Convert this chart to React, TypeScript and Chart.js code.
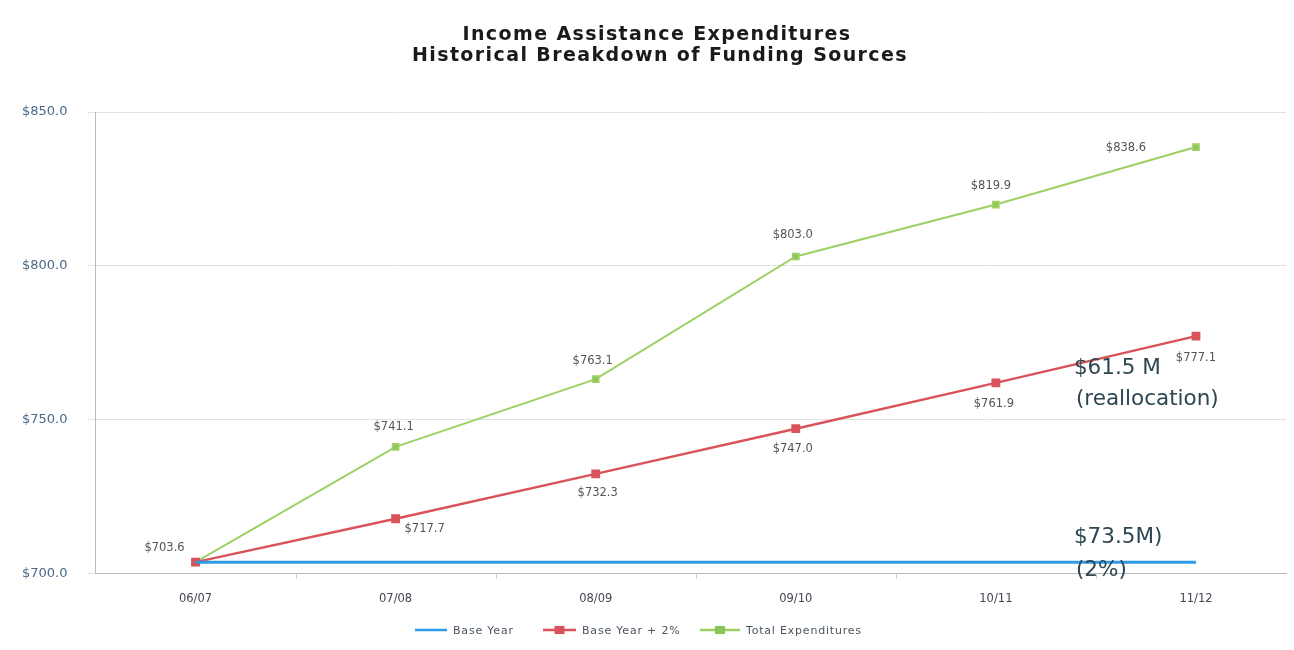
import React, { useEffect, useRef } from "react";
import { Chart, registerables } from "chart.js";

Chart.register(...registerables);

const categories = ["06/07", "07/08", "08/09", "09/10", "10/11", "11/12"];
const baseYear = [703.6, 703.6, 703.6, 703.6, 703.6, 703.6];
const basePlus2 = [703.6, 717.7, 732.3, 747.0, 761.9, 777.1];
const totalExp = [703.6, 741.1, 763.1, 803.0, 819.9, 838.6];
const yTickValues = [700, 750, 800, 850];
const titleLines = ["Income Assistance Expenditures", "Historical Breakdown of Funding Sources"];
const seriesNames = ["Base Year", "Base Year + 2%", "Total Expenditures"];
const seriesColors = ["#2f9ae6", "#d9535a", "#9dd065"];
const markerColors = ["#2f9ae6", "#d9535a", "#8cc653"];

// label offsets (style only)
const greenLabelOffsets = [[-31, -14], [-2, -20], [-3, -18], [-3, -21], [-5, -19], [-70, 1]];
const redLabelOffsets = [[0, 0], [29, 10], [2, 19], [-3, 20], [-2, 21], [0, 22]];

const fmt = (v: number) => "$" + v.toFixed(1);

const labelPlugin = {
  id: "pointLabels",
  afterDatasetsDraw(chart: any) {
    const ctx = chart.ctx;
    const xs = chart.scales.x;
    const ys = chart.scales.y;
    ctx.save();
    // small tick marks between categories
    ctx.strokeStyle = "#ccc";
    ctx.lineWidth = 1;
    for (let i = 1; i < categories.length; i++) {
      const px = Math.round(xs.getPixelForValue(i - 0.5)) + 0.5;
      ctx.beginPath();
      ctx.moveTo(px, ys.bottom);
      ctx.lineTo(px, ys.bottom + 6);
      ctx.stroke();
    }

    ctx.font = "11.5px 'DejaVu Sans', sans-serif";
    ctx.fillStyle = "#555";
    ctx.textAlign = "center";
    ctx.textBaseline = "middle";
    totalExp.forEach((v, i) => {
      const [dx, dy] = greenLabelOffsets[i];
      ctx.fillText(fmt(v), xs.getPixelForValue(i) + dx, ys.getPixelForValue(v) + dy);
    });
    basePlus2.forEach((v, i) => {
      if (i === 0) return;
      const [dx, dy] = redLabelOffsets[i];
      ctx.fillText(fmt(v), xs.getPixelForValue(i) + dx, ys.getPixelForValue(v) + dy);
    });
    // annotations
    ctx.font = "21.5px 'DejaVu Sans', sans-serif";
    ctx.fillStyle = "#2d4752";
    ctx.textAlign = "left";
    const ax = xs.getPixelForValue(4.39);
    ctx.fillText("$61.5 M", ax, ys.getPixelForValue(766.5));
    ctx.fillText("(reallocation)", ax + 2, ys.getPixelForValue(756.5));
    ctx.fillText("$73.5M)", ax, ys.getPixelForValue(711.5));
    ctx.fillText("(2%)", ax + 2, ys.getPixelForValue(700.8));

    // title
    ctx.font = "bold 19px 'DejaVu Sans', sans-serif";
    (ctx as any).letterSpacing = "1.4px";
    ctx.fillStyle = "#1a1a1a";
    ctx.textAlign = "center";
    ctx.fillText(titleLines[0], 657, 35);
    ctx.fillText(titleLines[1], 660, 56);
    (ctx as any).letterSpacing = "0px";

    // legend
    ctx.font = "11px 'DejaVu Sans', sans-serif";
    (ctx as any).letterSpacing = "0.8px";
    ctx.fillStyle = "#4a5560";
    ctx.textAlign = "left";
    const ly = 630;
    const items = [
      { x: 415, w: 32, marker: false },
      { x: 543, w: 33, marker: true },
      { x: 700, w: 40, marker: true },
    ];
    items.forEach((it, i) => {
      ctx.strokeStyle = seriesColors[i];
      ctx.lineWidth = 2.5;
      ctx.beginPath();
      ctx.moveTo(it.x, ly);
      ctx.lineTo(it.x + it.w, ly);
      ctx.stroke();
      if (it.marker) {
        ctx.fillStyle = markerColors[i];
        ctx.fillRect(it.x + it.w / 2 - 5, ly - 4, 10, 8);
      }
      ctx.fillStyle = "#4a5560";
      ctx.fillText(seriesNames[i], it.x + it.w + 6, ly + 1);
    });
    ctx.restore();
  },
};

export default function App() {
  const ref = useRef<HTMLCanvasElement>(null);
  useEffect(() => {
    document.body.style.margin = "0";
    const toPts = (arr: number[]) => arr.map((y, i) => ({ x: i, y }));
    const chart = new Chart(ref.current!, {
      type: "line",
      data: {
        datasets: [
          {
            label: seriesNames[0],
            data: toPts(baseYear),
            borderColor: seriesColors[0],
            backgroundColor: markerColors[0],
            borderWidth: 3,
            pointRadius: 0,
          },
          {
            label: seriesNames[1],
            data: toPts(basePlus2),
            borderColor: seriesColors[1],
            backgroundColor: markerColors[1],
            borderWidth: 2.5,
            pointStyle: "rect",
            pointRadius: 4.5,
          },
          {
            label: seriesNames[2],
            data: toPts(totalExp),
            borderColor: seriesColors[2],
            backgroundColor: markerColors[2],
            borderWidth: 2,
            pointStyle: "rect",
            pointRadius: 4,
          },
        ],
      },
      options: {
        animation: false,
        responsive: false,
        layout: { padding: { left: 2, right: 8, top: 112, bottom: 33 } },
        plugins: {
          title: { display: false },
          legend: { display: false },
          tooltip: { enabled: false },
        },
        scales: {
          x: {
            type: "linear",
            min: -0.5,
            max: 5.45,
            afterBuildTicks: (axis: any) => {
              axis.ticks = categories.map((_, i) => ({ value: i }));
            },
            ticks: {
              callback: (v: any) => categories[v] ?? "",
              color: "#445",
              font: { family: "'DejaVu Sans', sans-serif", size: 11.5 },
              padding: 11,
            },
            grid: { display: false },
            border: { color: "#bbb" },
          },
          y: {
            min: 700,
            max: 850,
            afterBuildTicks: (axis: any) => {
              axis.ticks = yTickValues.map((v) => ({ value: v }));
            },
            ticks: {
              callback: (v: any) => fmt(Number(v)),
              color: "#4a6888",
              font: { family: "'DejaVu Sans', sans-serif", size: 13 },
              padding: 20,
            },
            grid: { color: "#e2e2e2", tickLength: 8 },
            border: { color: "#bbb" },
          },
        },
      },
      plugins: [labelPlugin],
    } as any);
    return () => chart.destroy();
  }, []);
  return (
    <div style={{ position: "fixed", left: 0, top: 0, width: 1294, height: 650, background: "#fff" }}>
      <canvas ref={ref} width={1294} height={650} style={{ width: 1294, height: 650 }} />
    </div>
  );
}
